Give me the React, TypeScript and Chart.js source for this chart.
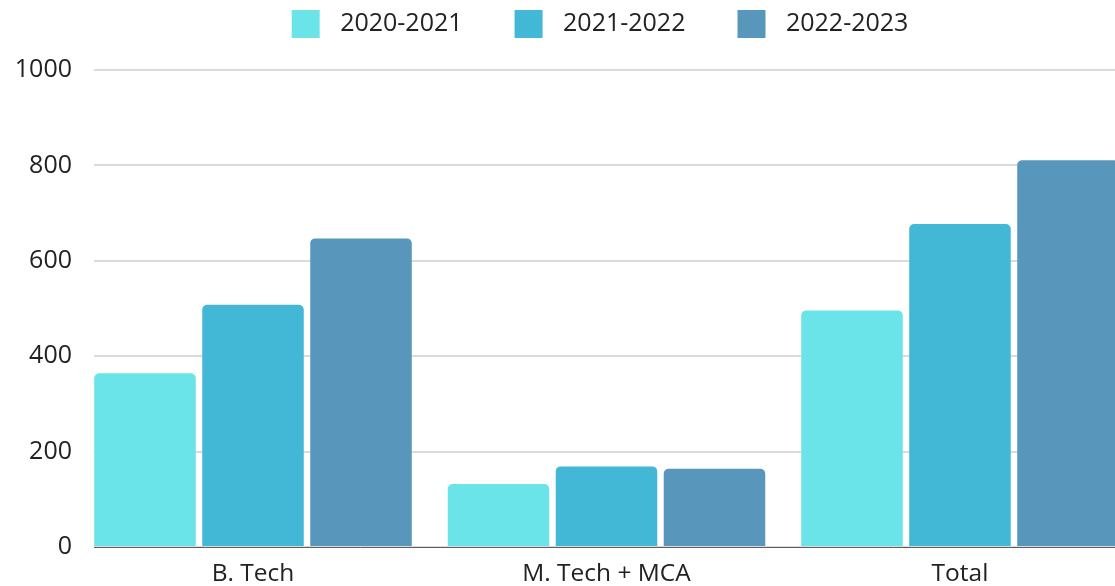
import React, { useEffect, useRef } from 'react';
import { Chart, registerables } from 'chart.js';

Chart.register(...registerables);

const categories = ['B. Tech', 'M. Tech + MCA', 'Total'];
const seriesLabels = ['2020-2021', '2021-2022', '2022-2023'];
const values2020 = [364, 132, 496];
const values2021 = [508, 169, 677];
const values2022 = [647, 164, 811];
const seriesColors = ['#6BE4E9', '#43B7D6', '#5896BC'];
const yTicks = [0, 200, 400, 600, 800, 1000];

const FONT = "'Open Sans', sans-serif";
const TEXT = '#222222';
const CANVAS_W = 1159;
const CANVAS_H = 586;

function makeSwatch(color: string): HTMLCanvasElement {
  const c = document.createElement('canvas');
  c.width = 77;
  c.height = 28;
  const ctx = c.getContext('2d')!;
  ctx.fillStyle = color;
  ctx.fillRect(41, 0, 28, 28);
  return c;
}

const legendSpacer = {
  id: 'legendSpacer',
  beforeInit(chart: any) {
    const legend = chart.legend;
    if (!legend) return;
    const orig = legend.fit;
    legend.fit = function () {
      orig.call(this);
      this.height = 70;
    };
  },
};

export default function App() {
  const ref = useRef<HTMLCanvasElement | null>(null);

  useEffect(() => {
    if (!ref.current) return;
    const series = [values2020, values2021, values2022];
    const swatches = seriesColors.map(makeSwatch);
    const chart = new Chart(ref.current, {
      type: 'bar',
      data: {
        datasets: series.map((vals, k) => ({
          label: seriesLabels[k],
          data: vals.map((v, i) => ({ x: i, y: v })),
          backgroundColor: seriesColors[k],
          borderRadius: 5,
          borderSkipped: 'start',
          categoryPercentage: 0.9166,
          barPercentage: 0.94,
        })),
      },
      options: {
        animation: false,
        responsive: false,
        devicePixelRatio: 1,
        layout: { padding: 0 },
        plugins: {
          legend: {
            position: 'top',
            align: 'center',
            labels: {
              usePointStyle: true,
              pointStyleWidth: 77,
              boxHeight: 25,
              padding: 11,
              color: TEXT,
              font: { family: FONT, size: 25 },
              generateLabels: (c: any) =>
                c.data.datasets.map((ds: any, i: number) => ({
                  text: ds.label,
                  pointStyle: swatches[i],
                  fillStyle: seriesColors[i],
                  strokeStyle: 'rgba(0,0,0,0)',
                  lineWidth: 0,
                  hidden: false,
                  datasetIndex: i,
                  fontColor: TEXT,
                })),
            },
          },
          tooltip: { enabled: false },
        },
        scales: {
          x: {
            type: 'linear',
            offset: false,
            min: -0.4498,
            max: 2.563,
            grid: { display: false },
            border: { display: true, color: '#5f5f5f', width: 1 },
            afterBuildTicks: (axis: any) => {
              axis.ticks = categories.map((_, i) => ({ value: i }));
            },
            afterFit: (axis: any) => {
              axis.height = 39;
            },
            ticks: {
              autoSkip: false,
              maxRotation: 0,
              padding: 4,
              color: TEXT,
              font: { family: FONT, size: 24.5 },
              callback: (v: any) => categories[v as number] ?? '',
            },
          },
          y: {
            min: 0,
            max: 1000,
            afterBuildTicks: (axis: any) => {
              axis.ticks = yTicks.map((v) => ({ value: v }));
            },
            afterFit: (axis: any) => {
              axis.width = 94;
            },
            grid: { color: '#dadada', lineWidth: 2, drawTicks: false },
            border: { display: false },
            ticks: {
              padding: 22,
              color: TEXT,
              font: { family: FONT, size: 25 },
              callback: (v: any) => String(v),
            },
          },
        },
      },
      plugins: [legendSpacer],
    } as any);
    return () => chart.destroy();
  }, []);

  return (
    <div
      style={{
        position: 'fixed',
        left: 0,
        top: 0,
        width: 1115,
        height: CANVAS_H,
        overflow: 'hidden',
        background: '#fff',
      }}
    >
      <canvas
        ref={ref}
        width={CANVAS_W}
        height={CANVAS_H}
        style={{ display: 'block', width: CANVAS_W, height: CANVAS_H }}
      />
    </div>
  );
}
